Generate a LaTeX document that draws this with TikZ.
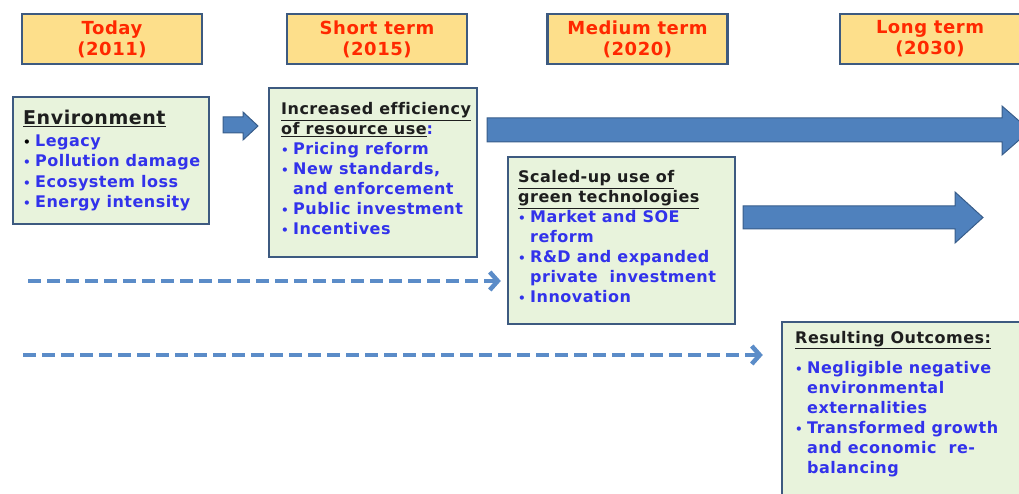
\documentclass[tikz,border=0pt]{standalone}
\usepackage{fontspec}
\setmainfont{DejaVu Sans}[LetterSpace=3, Ligatures=NoCommon]
\usetikzlibrary{arrows.meta}
\definecolor{boxborder}{RGB}{61,90,128}
\definecolor{headfill}{RGB}{253,223,139}
\definecolor{headred}{RGB}{255,40,0}
\definecolor{greenfill}{RGB}{232,243,220}
\definecolor{arrowfill}{RGB}{79,129,189}
\definecolor{arrowborder}{RGB}{56,93,138}
\definecolor{dashcol}{RGB}{91,140,200}
\definecolor{textblue}{RGB}{50,50,235}
\definecolor{titlecol}{RGB}{30,30,30}
\newcommand\bul[1][textblue]{\makebox[12pt][l]{\color{#1}\fontsize{12}{12}\selectfont •}}
\newcommand\cont{\hspace*{12pt}}
\newcommand\ttl[1]{{\color{titlecol}\underline{#1}}}
\tikzset{
  headbox/.style={draw=boxborder, line width=2.5pt, fill=headfill, minimum width=180pt, minimum height=50pt,
    align=center, text=headred, font=\fontsize{18}{21}\selectfont\bfseries, inner sep=0pt},
  greenbox/.style={draw=boxborder, line width=2.5pt, fill=greenfill, inner sep=0pt},
  blockarrow/.style={fill=arrowfill, draw=arrowborder, line width=1pt, line join=miter},
  boxtext/.style={anchor=base west, inner sep=0pt, text=textblue, font=\fontsize{16}{20}\selectfont\bfseries},
  dasharrow/.style={draw=dashcol, line width=4.5pt, dash pattern=on 13pt off 6pt,
    -{Straight Barb[length=8pt,width=18pt]}}
}
\begin{document}
\begin{tikzpicture}[x=1pt,y=-1pt]
\useasboundingbox (0,0) rectangle (1019,494);
\clip (0,0) rectangle (1019,494);
% headers
\node[headbox] (h1) at (112,39) {Today\\(2011)};
\node[headbox] (h2) at (377,39) {Short term\\(2015)};
\node[headbox] (h3) at (637.5,39) {Medium term\\(2020)};
\node[headbox] (h4) at (930,39) {Long term\\(2030)};
% boxes
\node[greenbox, minimum width=196pt, minimum height=127pt] (env) at (111,160.5) {};
\node[greenbox, minimum width=208pt, minimum height=169pt] (eff) at (373,172.5) {};
\node[greenbox, minimum width=227pt, minimum height=167pt] (sc) at (621.5,240.5) {};
\node[greenbox, minimum width=258pt, minimum height=188pt] (out) at (911,416) {};
% texts
\node[boxtext] (envt) at (23,125) {\begin{tabular}[t]{@{}l@{}}
{\fontsize{19}{20}\selectfont\ttl{Environment}}\\[1.7pt]
\bul[black]Legacy\\[0.3pt]
\bul Pollution damage\\[0.3pt]
\bul Ecosystem loss\\[0.3pt]
\bul Energy intensity
\end{tabular}};
\node[boxtext] (efft) at (281,115) {\begin{tabular}[t]{@{}l@{}}
\ttl{Increased efficiency}\\[-0.5pt]
\ttl{of resource use}:\\
\bul Pricing reform\\
\bul New standards,\\
\cont and enforcement\\
\bul Public investment\\
\bul Incentives
\end{tabular}};
\node[boxtext] (sct) at (518,183) {\begin{tabular}[t]{@{}l@{}}
\ttl{Scaled-up use of}\\
\ttl{green technologies}\\
\bul Market and SOE\\
\cont reform\\
\bul R\&D and expanded\\
\cont private\ \ investment\\
\bul Innovation
\end{tabular}};
\node[boxtext] (outt) at (795,343) {\begin{tabular}[t]{@{}l@{}}
\ttl{Resulting Outcomes:}\\[10pt]
\bul Negligible negative\\
\cont environmental\\
\cont externalities\\
\bul Transformed growth\\
\cont and economic\ \ re-\\
\cont balancing
\end{tabular}};
% block arrows
\draw[blockarrow] (223,117) -- (243,117) -- (243,112) -- (258,126) -- (243,140) -- (243,133) -- (223,133) -- cycle;
\draw[blockarrow] (487,118) -- (1002,118) -- (1002,106) -- (1030,130.5) -- (1002,155) -- (1002,142) -- (487,142) -- cycle;
\draw[blockarrow] (743,206) -- (955,206) -- (955,192) -- (983,217.5) -- (955,243) -- (955,229) -- (743,229) -- cycle;
% dashed arrows
\coordinate (d1s) at (28,281);
\coordinate (d2s) at (23,355);
\draw[dasharrow, shorten >=6pt] (d1s) -- (d1s -| sc.west);
\draw[dasharrow, shorten >=18pt] (d2s) -- (d2s -| out.west);
\end{tikzpicture}
\end{document}
